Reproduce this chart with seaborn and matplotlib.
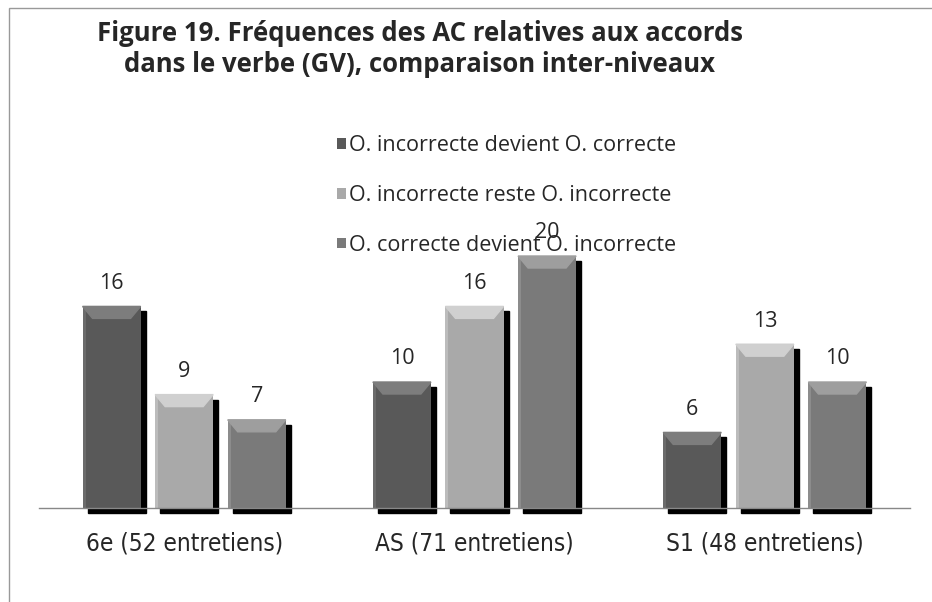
import pandas as pd
import matplotlib.pyplot as plt
import seaborn as sns
from matplotlib.patches import Rectangle, Polygon

# data
niveaux = ['6e (52 entretiens)', 'AS (71 entretiens)', 'S1 (48 entretiens)']
series = ['O. incorrecte devient O. correcte',
          'O. incorrecte reste O. incorrecte',
          'O. correcte devient O. incorrecte']
inc_to_cor = [16, 10, 6]
inc_stays = [9, 16, 13]
cor_to_inc = [7, 20, 10]
colors = ['#595959', '#a9a9a9', '#7a7a7a']
bevels = ['#7d7d7d', '#d0d0d0', '#9e9e9e']

df = pd.DataFrame({
    'niveau': niveaux * 3,
    'serie': [s for s in series for _ in niveaux],
    'valeur': inc_to_cor + inc_stays + cor_to_inc,
})

sns.set_style('white')
plt.rcParams['font.family'] = ['Open Sans', 'DejaVu Sans']

fig = plt.figure(figsize=(9.32, 6.02), dpi=100)
ax = fig.add_axes([39 / 932, 1 - 508 / 602, 871 / 932, 315 / 602])

sns.barplot(data=df, x='niveau', y='valeur', hue='serie', hue_order=series,
            palette=colors, width=0.75, gap=0.2, saturation=1, ax=ax,
            edgecolor='none', linewidth=0)
ax.set_ylim(0, 25)

# shadows and bevel tops
dx = 5 / 290
dy = 5 / 12.6
for i, cont in enumerate(ax.containers):
    for bar in cont:
        x, w, h = bar.get_x(), bar.get_width(), bar.get_height()
        ax.add_patch(Rectangle((x + dx, -dy), w, h, color='black', zorder=bar.get_zorder() - 0.5,
                               clip_on=False))
        bh = 12 / 12.6
        bw = 10 / 290
        ax.add_patch(Polygon([(x, h), (x + w, h), (x + w - bw, h - bh), (x + bw, h - bh)],
                             closed=True, color=bevels[i], zorder=bar.get_zorder() + 0.1))
        ax.add_patch(Rectangle((x, 0), 3 / 290, h, color=bevels[i], alpha=0.5,
                               zorder=bar.get_zorder() + 0.1, linewidth=0))
    ax.bar_label(cont, padding=9, fontsize=15.5)

ax.set_xlabel('')
ax.set_ylabel('')
ax.set_yticks([])
ax.tick_params(axis='x', length=0, pad=17, labelsize=17.5)
for lab in ax.get_xticklabels():
    lab.set_fontstretch('condensed')
    lab.set_family(['DejaVu Sans'])
for s in ['top', 'right', 'left']:
    ax.spines[s].set_visible(False)
ax.spines['bottom'].set_color('#888888')
ax.spines['bottom'].set_linewidth(1)

ax.legend(loc='upper left', bbox_to_anchor=(318 / 932, 1 - 116 / 602),
          bbox_transform=fig.transFigure, frameon=False, fontsize=15.5,
          labelspacing=1.33, handlelength=0.4, handleheight=0.4, handletextpad=0.12)

fig.text(420 / 932, 1 - 49 / 602,
         'Figure 19. Fréquences des AC relatives aux accords\ndans le verbe (GV), comparaison inter-niveaux',
         ha='center', va='center', fontsize=18.5, fontweight='bold', linespacing=1.2)

# chart area border
fig.patches.append(Rectangle((9 / 932, -0.1), 1.2, 1 - 8 / 602 + 0.1, transform=fig.transFigure,
                             fill=False, edgecolor='#999999', linewidth=1))

fig.savefig('out.png', dpi=100)
